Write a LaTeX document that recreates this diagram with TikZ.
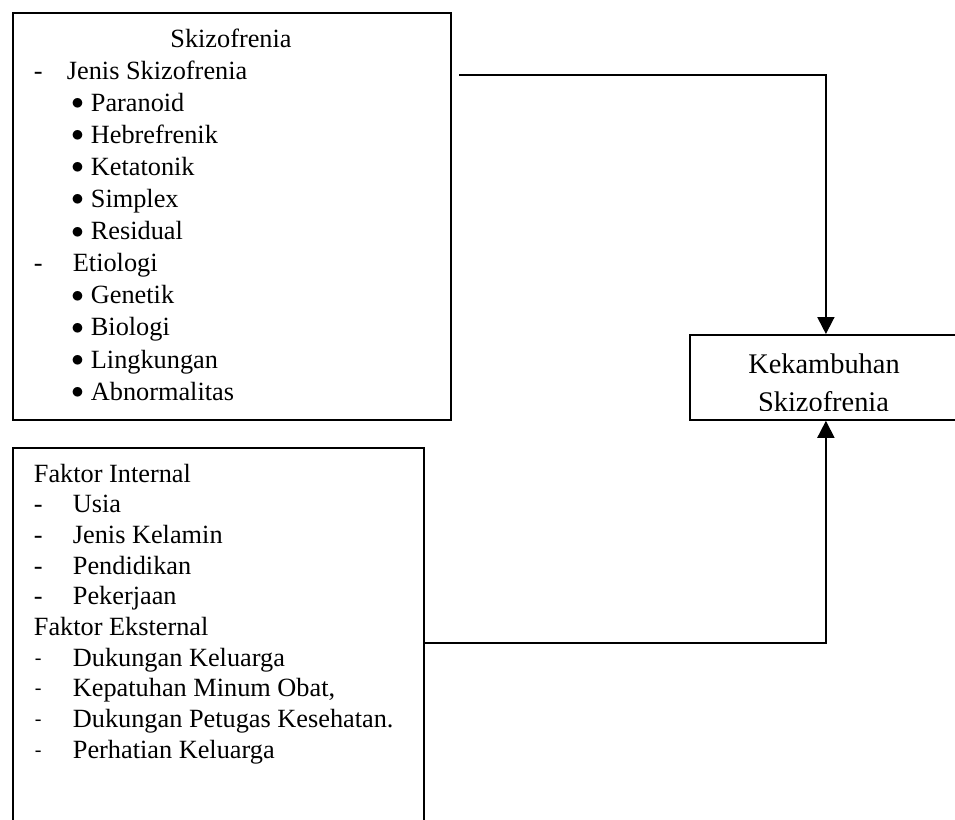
\documentclass[tikz,border=0pt]{standalone}
\usepackage{fontspec}
\setmainfont{Liberation Serif}
\usetikzlibrary{arrows.meta}
\tikzset{> = {Triangle[length=17pt,width=17pt]}, every picture/.style={line width=1.8pt}}
\newcommand{\blt}{\makebox[19.5pt][l]{\raisebox{1.5pt}{$\bullet$}}}

\begin{document}
\begin{tikzpicture}[x=1pt,y=-1pt,
  box/.style={draw,rectangle,inner sep=0pt,anchor=north west},
  txt/.style={inner sep=0pt,anchor=base west,font=\fontsize{26.3}{32}\selectfont},
  bigtxt/.style={inner sep=0pt,anchor=base,font=\fontsize{28.4}{34}\selectfont}]
\clip (0,0) rectangle (955,819);

\begin{scope}[every node/.style={box}]
\node[minimum width=438pt,minimum height=407pt] (skz) at (12,12) {};
\node[minimum width=411pt,minimum height=400pt] (faktor) at (12,447) {};
\node[minimum width=272pt,minimum height=85pt] (kek) at (689,334) {};
\end{scope}

% Skizofrenia
\node[txt,anchor=base] (skztitle) at (231,47) {Skizofrenia};
\node[txt] (jenisd) at (33,79) {-};
\node[txt] (jenis) at (66,79) {Jenis Skizofrenia};
\foreach \t [count=\i] in {Paranoid,Hebrefrenik,Ketatonik,Simplex,Residual}
  \node[txt] (jenis\i) at (70.5,79+32.1*\i) {\blt\t};
\node[txt] (etiod) at (33,271.7) {-};
\node[txt] (etio) at (72,271.7) {Etiologi};
\foreach \t [count=\i] in {Genetik,Biologi,Lingkungan,Abnormalitas}
  \node[txt] (etio\i) at (70.5,271.7+32.1*\i) {\blt\t};

% Faktor
\node[txt] (fint) at (33,482) {Faktor Internal};
\foreach \t [count=\i] in {Usia,Jenis Kelamin,Pendidikan,Pekerjaan} {
  \node[txt] (fintd\i) at (33,482+30.7*\i) {-};
  \node[txt] (fint\i) at (72,482+30.7*\i) {\t};
}
\node[txt] (fext) at (33,635.5) {Faktor Eksternal};
\foreach \t [count=\i] in {Dukungan Keluarga,{Kepatuhan Minum Obat,},Dukungan Petugas Kesehatan.,Perhatian Keluarga} {
  \node[txt] (fextd\i) at (34,635.5+30.7*\i) {\fontsize{20}{20}\selectfont\raisebox{2pt}{-}};
  \node[txt] (fext\i) at (72,635.5+30.7*\i) {\t};
}

% Kekambuhan
\node[bigtxt] (kek1) at (824,373) {Kekambuhan};
\begin{scope}
\clip (689,334) rectangle (961,410);
\node[bigtxt] (kek2) at (823.5,411) {Skizofrenia};
\end{scope}

\coordinate (skzout) at (459,75);
\coordinate (faktorout) at (425,643);
\draw[->] (skzout) -| (kek.north);
\draw[->] (faktorout) -| (kek.south);
\end{tikzpicture}
\end{document}
